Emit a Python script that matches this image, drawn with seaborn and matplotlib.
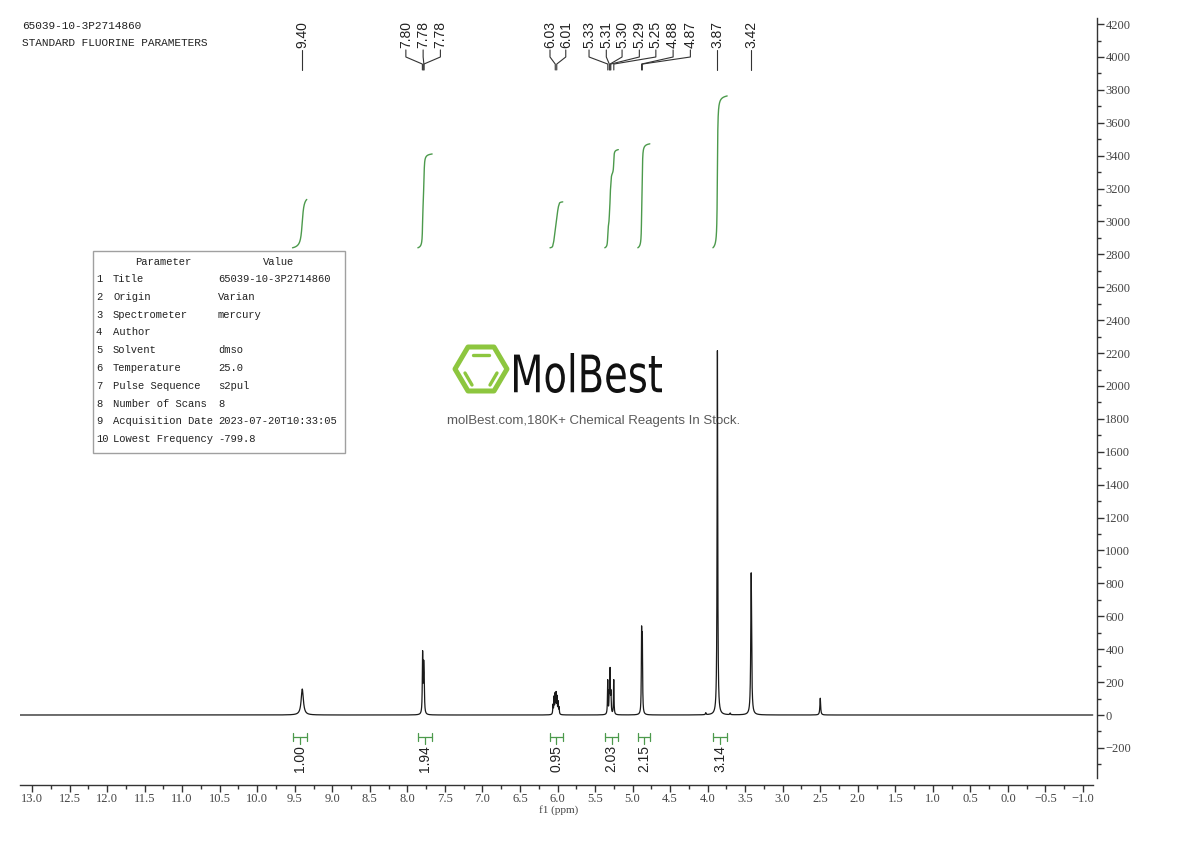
import numpy as np
import pandas as pd
import matplotlib
matplotlib.use("Agg")
import matplotlib.pyplot as plt
import seaborn as sns
from matplotlib.patches import Rectangle, Polygon, PathPatch
from matplotlib.lines import Line2D
from matplotlib.textpath import TextPath
from matplotlib.font_manager import FontProperties
from matplotlib.transforms import Affine2D
from matplotlib.ticker import FixedLocator, MultipleLocator, FuncFormatter

# peak list: shift (ppm), height, line width (ppm)
peak_ppm = [9.400, 7.797, 7.783, 7.776,
            6.060, 6.046, 6.032, 6.019, 6.006, 5.992, 5.979,
            5.331, 5.311, 5.300, 5.288, 5.251,
            4.880, 4.870, 4.025, 3.870, 3.700, 3.420, 2.500]
peak_height = [158, 360, 250, 170,
               55, 100, 115, 120, 100, 72, 40,
               205, 110, 260, 120, 212,
               480, 440, 12, 2215, 10, 865, 102]
peak_width = [0.035, 0.009, 0.009, 0.009,
              0.008, 0.008, 0.008, 0.008, 0.008, 0.008, 0.008,
              0.008, 0.008, 0.008, 0.008, 0.008,
              0.008, 0.008, 0.010, 0.010, 0.010, 0.013, 0.012]

# peak picking labels (top)
label_text = ["9.40", "7.80", "7.78", "7.78", "6.03", "6.01",
              "5.33", "5.31", "5.30", "5.29", "5.25", "4.88", "4.87", "3.87", "3.42"]
label_shift = [9.40, 7.80, 7.78, 7.78, 6.03, 6.01,
               5.33, 5.31, 5.30, 5.29, 5.25, 4.88, 4.87, 3.87, 3.42]
label_pos = [9.40, 8.02, 7.79, 7.56, 6.10, 5.89,
             5.58, 5.35, 5.14, 4.91, 4.69, 4.46, 4.23, 3.87, 3.42]

# integrals
int_hi = [9.53, 7.86, 6.10, 5.37, 4.93, 3.93]
int_lo = [9.34, 7.67, 5.93, 5.19, 4.77, 3.74]
int_val = [1.00, 1.94, 0.95, 2.03, 2.15, 3.14]

params = ["Title", "Origin", "Spectrometer", "Author", "Solvent", "Temperature",
          "Pulse Sequence", "Number of Scans", "Acquisition Date", "Lowest Frequency"]
values = ["65039-10-3P2714860", "Varian", "mercury", "", "dmso", "25.0",
          "s2pul", "8", "2023-07-20T10:33:05", "-799.8"]

sns.set_theme(style="white")
plt.rcParams['font.family'] = ['Liberation Sans', 'DejaVu Sans']

ppm = np.linspace(13.16, -1.13, 24000)
intensity = np.zeros_like(ppm)
for p, h, w in zip(peak_ppm, peak_height, peak_width):
    intensity += h / (1 + ((ppm - p) / (w / 2)) ** 2)
df = pd.DataFrame({"ppm": ppm, "intensity": intensity})

fig = plt.figure(figsize=(11.9, 8.41), dpi=100)
ax = fig.add_axes([20 / 1190, 56 / 841, 1077 / 1190, 767 / 841])
ax.set_facecolor("none")

sns.lineplot(data=df, x="ppm", y="intensity", ax=ax, color="#1a1a1a",
             lw=0.9, errorbar=None, estimator=None, sort=False)

green = "#4c9a4c"
base, scale = 2840, 294
for hi, lo, val in zip(int_hi, int_lo, int_val):
    m = (ppm <= hi) & (ppm >= lo)
    cum = np.cumsum(intensity[m])
    ax.plot(ppm[m], base + val * scale * cum / cum[-1], color=green, lw=1)
    ax.plot([hi, lo], [-134, -134], color=green, lw=0.9)
    ax.plot([hi, hi], [-112, -156], color=green, lw=0.9)
    ax.plot([lo, lo], [-112, -156], color=green, lw=0.9)
    c = (hi + lo) / 2
    ax.plot([c, c], [-134, -178], color=green, lw=0.9)
    ax.text(c, -182, f"{val:.2f}", rotation=90, ha="center", va="top",
            fontsize=10, color="#222222")

for s, sh, pos in zip(label_text, label_shift, label_pos):
    ax.text(pos, 4055, s, rotation=90, ha="center", va="bottom",
            fontsize=10, color="#222222")
    ax.plot([pos, pos, sh, sh], [4043, 4000, 3957, 3921], color="#333333", lw=0.8)

ax.set_xlim(13.16, -1.1865)
ax.set_ylim(-425.5, 4237)

for sp in ["top", "left"]:
    ax.spines[sp].set_visible(False)
ax.spines["right"].set_bounds(-383, 4237)
ax.spines["bottom"].set_bounds(13.16, -1.13)
for sp in ["right", "bottom"]:
    ax.spines[sp].set_color("#333333")
    ax.spines[sp].set_linewidth(1)

ax.yaxis.tick_right()
ax.yaxis.set_major_locator(FixedLocator(np.arange(-200, 4201, 200)))
ax.yaxis.set_minor_locator(FixedLocator(np.arange(-300, 4201, 100)))
ax.xaxis.set_major_locator(MultipleLocator(0.5))
ax.xaxis.set_minor_locator(MultipleLocator(0.25))
ax.xaxis.set_major_formatter(FuncFormatter(lambda v, _: f"{v:.1f}".replace("-", "\u2212")))
ax.yaxis.set_major_formatter(FuncFormatter(lambda v, _: f"{v:.0f}".replace("-", "\u2212")))
ax.tick_params(which="major", direction="out", length=5, width=1, color="#333333",
               labelsize=9, labelcolor="#444444", pad=1)
ax.tick_params(which="minor", direction="out", length=3, width=1, color="#333333")
ax.tick_params(axis="x", which="both", bottom=True)
ax.tick_params(axis="y", which="both", right=True, left=False)
for lab in ax.get_xticklabels() + ax.get_yticklabels():
    lab.set_family("Liberation Serif")
ax.set_xlabel("f1 (ppm)", fontsize=8, family="Liberation Serif", color="#444444", labelpad=0)
ax.set_ylabel("")

# header
fig.text(22 / 1190, 1 - 26 / 841, "65039-10-3P2714860", va="center", fontsize=8,
         family="Liberation Mono", color="#222222")
fig.text(22 / 1190, 1 - 43 / 841, "STANDARD FLUORINE PARAMETERS", va="center", fontsize=8,
         family="Liberation Mono", color="#222222")

pix = Affine2D().scale(1 / 1190, -1 / 841).translate(0, 1) + fig.transFigure

# parameter table
fig.add_artist(Rectangle((93, 251), 252, 202, transform=pix, fill=False,
                         edgecolor="#a0a0a0", lw=1))
tkw = dict(transform=pix, va="center", fontsize=7.6, family="Liberation Mono", color="#222222")
fig.text(163, 262, "Parameter", ha="center", **tkw)
fig.text(279, 262, "Value", ha="center", **tkw)
for i, (p, v) in enumerate(zip(params, values)):
    y = 279 + i * 17.8
    fig.text(96, y, str(i + 1), ha="left", **tkw)
    fig.text(113, y, p, ha="left", **tkw)
    fig.text(218, y, v, ha="left", **tkw)

# watermark
lg = "#8dc63f"
hexv = [(455, 369), (468, 347), (494, 347), (507, 369), (494, 391), (468, 391)]
fig.add_artist(Polygon(hexv, closed=True, transform=pix, fill=False, edgecolor=lg,
                       lw=3.6, joinstyle="round", zorder=-1))
for (x0, y0), (x1, y1) in [((473, 355), (489, 355)), ((465, 373), (472, 385)),
                           ((497, 373), (490, 385))]:
    fig.add_artist(Line2D([x0, x1], [y0, y1], transform=pix, color=lg, lw=2.4,
                          solid_capstyle="round", zorder=-1))
tp = TextPath((0, 0), "MolBest", size=1, prop=FontProperties(family="DejaVu Sans"))
ext = tp.get_extents()
tr = (Affine2D().translate(-ext.x0, -ext.y0)
      .scale(148 / ext.width, -40 / ext.height).translate(514, 393))
fig.add_artist(PathPatch(tr.transform_path(tp), transform=pix, facecolor="#111111",
                         edgecolor="none", zorder=-1))
fig.text(594 / 1190, 1 - 421 / 841, "molBest.com,180K+ Chemical Reagents In Stock.",
         ha="center", va="center", fontsize=9.5, color="#5a5a5a", zorder=-1)

fig.savefig("out.png", dpi=100)
